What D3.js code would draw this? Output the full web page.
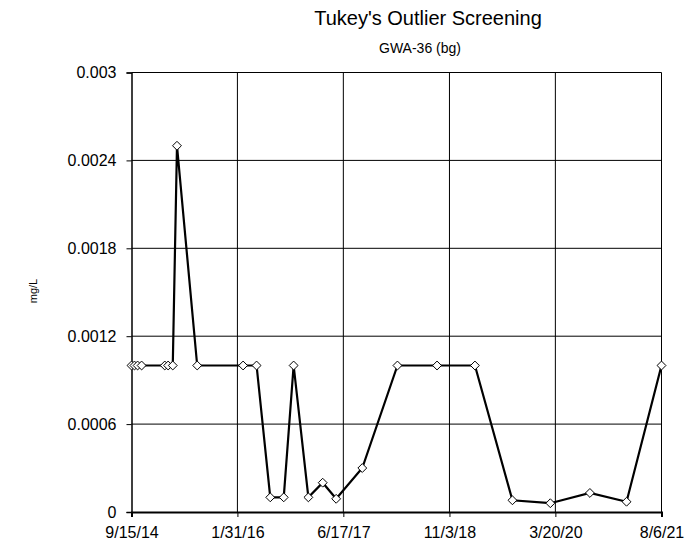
<!DOCTYPE html>
<html><head><meta charset="utf-8">
<script src="https://cdn.jsdelivr.net/npm/d3@7"></script>
<style>body{margin:0;background:#fff}svg{display:block;font-family:"Liberation Sans",Arial,sans-serif}</style>
</head><body><svg id="c" width="698" height="545"></svg>
<script>
const dates = ["2014-09-15","2014-09-29","2014-10-14","2014-11-02","2015-02-20","2015-03-08","2015-03-30","2015-04-19","2015-07-24","2016-02-27","2016-05-01","2016-07-05","2016-09-07","2016-10-24","2017-01-02","2017-03-11","2017-05-14","2017-09-15","2018-03-01","2018-09-05","2019-03-04","2019-08-29","2020-02-25","2020-08-31","2021-02-21","2021-08-06"];
const values = [0.001,0.001,0.001,0.001,0.001,0.001,0.001,0.0025,0.001,0.001,0.001,0.0001,0.0001,0.001,0.0001,0.0002,0.00009,0.0003,0.001,0.001,0.001,0.00008,0.00006,0.00013,0.00007,0.001];
const xTickLabels = ["9/15/14","1/31/16","6/17/17","11/3/18","3/20/20","8/6/21"];
const yTicks = [0,0.0006,0.0012,0.0018,0.0024,0.003];
const yTickLabels = ["0","0.0006","0.0012","0.0018","0.0024","0.003"];

const parse = d3.timeParse("%Y-%m-%d");
const parseTick = d3.timeParse("%m/%d/%y");
const data = dates.map((d,i)=>({x:parse(d), y:values[i]}));
const xTicks = xTickLabels.map(parseTick);

const L=131.5, R=661.5, T=72.5, B=512;
const svg = d3.select("#c");
const x = d3.scaleTime().domain([xTicks[0], xTicks[xTicks.length-1]]).range([L,R]);
const y = d3.scaleLinear().domain([0,0.003]).range([B,T]);

// gridlines
svg.append("g").selectAll("line").data(yTicks.slice(1)).join("line")
  .attr("x1",L).attr("x2",R).attr("y1",d=>y(d)).attr("y2",d=>y(d))
  .attr("stroke","#000").attr("stroke-width",1);
svg.append("g").selectAll("line").data(xTicks.slice(1)).join("line")
  .attr("x1",d=>x(d)).attr("x2",d=>x(d)).attr("y1",T).attr("y2",B)
  .attr("stroke","#000").attr("stroke-width",1);

// axes
const yAxis = d3.axisLeft(y).tickValues(yTicks).tickFormat((d,i)=>yTickLabels[i]).tickSize(5).tickPadding(10);
const gy = svg.append("g").attr("transform",`translate(${L},0)`).call(yAxis);
const xAxis = d3.axisBottom(x).tickValues(xTicks).tickFormat((d,i)=>xTickLabels[i]).tickSize(5).tickPadding(10);
const gx = svg.append("g").attr("transform",`translate(0,${B})`).call(xAxis);
[gx,gy].forEach(g=>{
  g.select(".domain").attr("stroke","#000").attr("stroke-width",2);
  g.selectAll(".tick line").attr("stroke","#000").attr("stroke-width",1);
  g.selectAll(".tick text").attr("fill","#000").style("font-size","16px").style("font-family","Liberation Sans, Arial, sans-serif");
});
gy.select(".domain").attr("stroke-width",1.5);

// line
svg.append("path").datum(data)
  .attr("d", d3.line().x(d=>x(d.x)).y(d=>y(d.y)))
  .attr("fill","none").attr("stroke","#000").attr("stroke-width",2.2).attr("stroke-linejoin","miter");

// markers
svg.append("g").selectAll("path").data(data).join("path")
  .attr("transform",d=>`translate(${x(d.x)},${y(d.y)})`)
  .attr("d", d3.symbol().type(d3.symbolDiamond2).size(50))
  .attr("fill","#fff").attr("stroke","#000").attr("stroke-width",1);

// titles
svg.append("text").attr("x",428).attr("y",25).attr("text-anchor","middle")
  .style("font-size","20px").text("Tukey's Outlier Screening");
svg.append("text").attr("x",420).attr("y",53).attr("text-anchor","middle")
  .style("font-size","14px").text("GWA-36 (bg)");
svg.append("text").attr("transform","translate(37,291) rotate(-90)").attr("text-anchor","middle")
  .style("font-size","11px").text("mg/L");
</script></body></html>
